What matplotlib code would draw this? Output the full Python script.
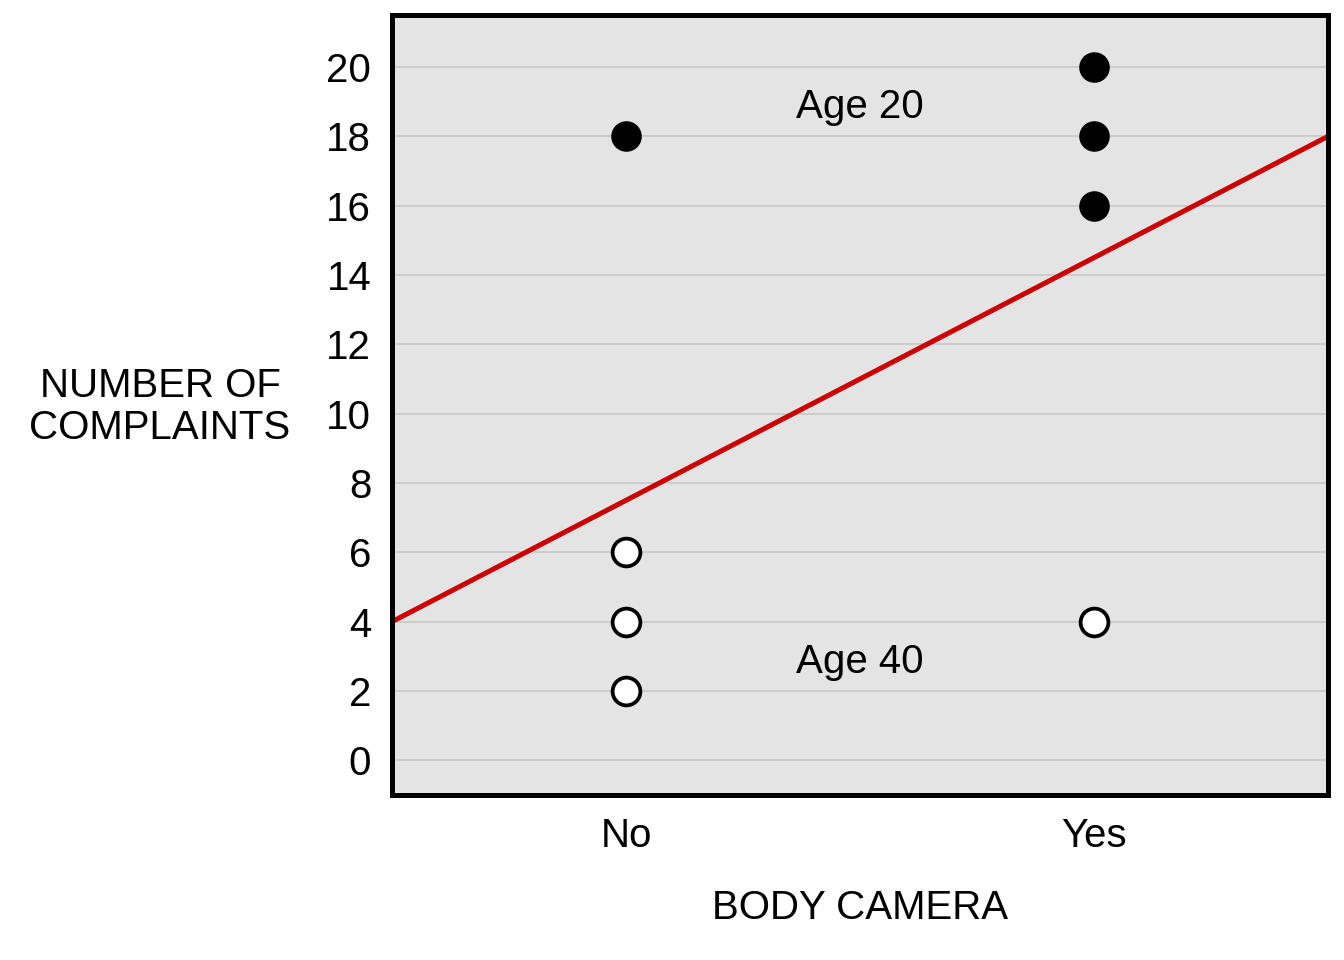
import matplotlib.pyplot as plt
import numpy as np

plt.rcParams['font.family'] = ['Liberation Sans', 'DejaVu Sans']

# --- dane ---
categories = ["No", "Yes"]
age20_x = [1, 2, 2, 2]
age20_y = [18, 20, 18, 16]
age40_x = [1, 1, 1, 2]
age40_y = [6, 4, 2, 4]
y_ticks = [0, 2, 4, 6, 8, 10, 12, 14, 16, 18, 20]

# --- regresja na wszystkich punktach ---
all_x = np.array(age20_x + age40_x)
all_y = np.array(age20_y + age40_y)
slope, intercept = np.polyfit(all_x, all_y, 1)

fig = plt.figure(figsize=(13.44, 9.6), dpi=100)
ax = fig.add_axes([392/1344, 1 - 795/960, (1328-392)/1344, (795-15)/960])
ax.set_facecolor('#E4E4E4')
ax.set_xlim(0.5, 2.5)
ax.set_ylim(-1, 21.5)

for yv in y_ticks:
    ax.axhline(yv, color='#CACACA', lw=1.3, zorder=1)

xx = np.array([0.5, 2.5])
ax.plot(xx, intercept + slope * xx, color='#CC0000', lw=3.6, zorder=2,
        solid_capstyle='butt')

ax.plot(age20_x, age20_y, 'o', ms=22, mfc='black', mec='black', mew=0, zorder=3)
ax.plot(age40_x, age40_y, 'o', ms=20, mfc='white', mec='black', mew=2.7, zorder=3)

ax.text(1.5, 18.85, "Age 20", ha='center', va='center', fontsize=29)
ax.text(1.5, 2.85, "Age 40", ha='center', va='center', fontsize=29)

ax.set_xticks([1, 2])
ax.set_xticklabels(categories)
ax.set_yticks(y_ticks)
ax.tick_params(axis='y', length=0, labelsize=29, pad=15)
ax.tick_params(axis='x', length=0, labelsize=29, pad=16)
for s in ax.spines.values():
    s.set_linewidth(3.6)
    s.set_color('black')

ax.set_xlabel("BODY CAMERA", fontsize=29, labelpad=24)
fig.text(160/1344, 1 - 407/960, "NUMBER OF\nCOMPLAINTS", ha='center', va='center',
         fontsize=29, linespacing=1.15)

fig.savefig("out.png", dpi=100)
